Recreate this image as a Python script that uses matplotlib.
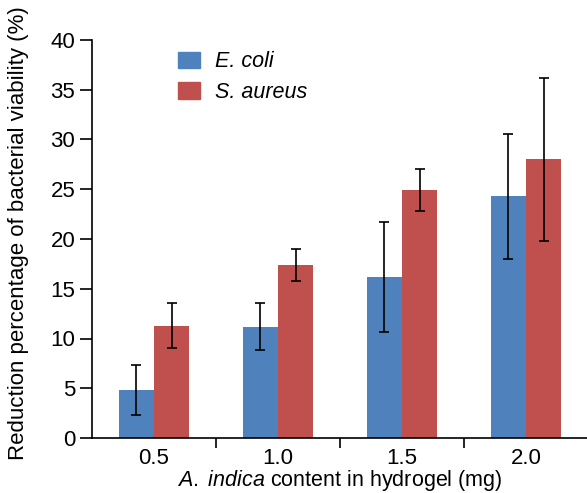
import matplotlib
matplotlib.use("Agg")
import matplotlib.pyplot as plt
import numpy as np
from matplotlib.patches import Patch

plt.rcParams['font.family'] = ['Liberation Sans', 'DejaVu Sans']
plt.rcParams['mathtext.fontset'] = 'custom'
plt.rcParams['mathtext.rm'] = 'Liberation Sans'
plt.rcParams['mathtext.it'] = 'Liberation Sans:italic'

categories = ["0.5", "1.0", "1.5", "2.0"]
ecoli = [4.8, 11.2, 16.2, 24.3]
ecoli_err = [2.5, 2.4, 5.5, 6.3]
saureus = [11.3, 17.4, 24.9, 28.0]
saureus_err = [2.3, 1.6, 2.1, 8.2]
series_names = ["E. coli", "S. aureus"]
yticks = [0, 5, 10, 15, 20, 25, 30, 35, 40]

blue = "#4F81BD"
red = "#C0504D"

fig = plt.figure(figsize=(5.87, 4.93), dpi=100)
ax = fig.add_axes([92/587, 1-438/493, 496/587, 398/493])

x = np.arange(len(categories))
w = 0.286
ekw = dict(elinewidth=1.2, capthick=1.2, ecolor="black")
ax.bar(x - w/2, ecoli, w, color=blue, yerr=ecoli_err, capsize=3.3, error_kw=ekw)
ax.bar(x + w/2, saureus, w, color=red, yerr=saureus_err, capsize=3.3, error_kw=ekw)

ax.set_xlim(-0.5, 3.5)
ax.set_ylim(0, 40)
ax.set_yticks(yticks)
ax.set_yticklabels([str(t) for t in yticks], fontsize=16)
ax.set_xticks(x)
ax.set_xticklabels(categories, fontsize=16)
ax.set_xticks(np.arange(0.5, 3.6, 1.0), minor=True)
ax.tick_params(axis='x', which='major', length=0, pad=7)
ax.tick_params(axis='x', which='minor', length=7, width=1.2, direction='out')
ax.tick_params(axis='y', length=9, width=1.2, direction='out', pad=3)

for s in ['top', 'right']:
    ax.spines[s].set_visible(False)
for s in ['left', 'bottom']:
    ax.spines[s].set_linewidth(1.2)

ax.set_ylabel("Reduction percentage of bacterial viability (%)", fontsize=16)
ax.yaxis.set_label_coords(-0.128, 0.515)
ax.set_xlabel(r"$\mathit{A.\ indica}$ content in hydrogel (mg)", fontsize=15.5)
ax.xaxis.set_label_coords(0.5, -0.075)

handles = [Patch(color=blue, label=series_names[0]), Patch(color=red, label=series_names[1])]
leg = ax.legend(handles=handles, loc='upper left', bbox_to_anchor=(0.135, 1.02), frameon=False,
                prop={'style': 'italic', 'size': 15.5}, handlelength=1.0, handleheight=0.8,
                labelspacing=0.45, handletextpad=0.7)

fig.savefig("out.png", dpi=100)
